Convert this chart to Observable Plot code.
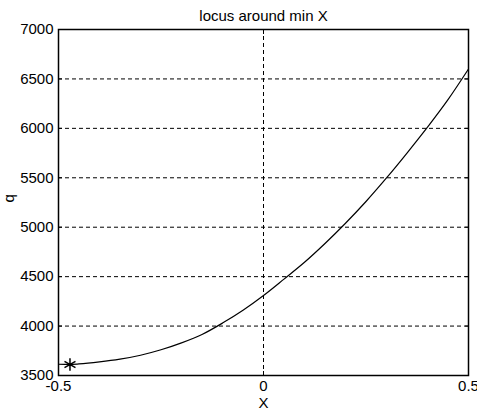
<!DOCTYPE html>
<html>
<head>
<meta charset="utf-8">
<script src="https://cdn.jsdelivr.net/npm/d3@7"></script>
<script src="https://cdn.jsdelivr.net/npm/@observablehq/plot@0.6"></script>
<style>
  html, body { margin: 0; padding: 0; background: white; }
</style>
</head>
<body>
<div id="chart"></div>
<script>
const titleText = "locus around min X";
const xLabel = "X";
const yLabel = "q";
const xs = [-0.5, -0.475, -0.45, -0.4, -0.35, -0.3, -0.25, -0.2, -0.15, -0.1, -0.05, 0, 0.05, 0.1, 0.15, 0.2, 0.25, 0.3, 0.35, 0.4, 0.45, 0.5];
const qs = [3614, 3612, 3617, 3637, 3665, 3705, 3760, 3830, 3915, 4030, 4160, 4309, 4475, 4645, 4835, 5040, 5260, 5498, 5750, 6012, 6290, 6600];
const minX = [-0.472];
const minQ = [3611];
const xTicks = [-0.5, 0, 0.5];
const yTicks = [3500, 4000, 4500, 5000, 5500, 6000, 6500, 7000];

const curve = xs.map((x, i) => ({x, q: qs[i]}));
const minPt = minX.map((x, i) => ({x, q: minQ[i]}));

const chart = Plot.plot({
  width: 477,
  height: 415,
  marginLeft: 58,
  marginRight: 9,
  marginTop: 29,
  marginBottom: 40,
  style: {fontFamily: "'Liberation Sans', Arial, sans-serif", fontSize: "15px", background: "white", color: "black"},
  x: {domain: [-0.5, 0.5]},
  y: {domain: [3500, 7000]},
  marks: [
    Plot.gridY(yTicks, {stroke: "black", strokeOpacity: 1, strokeDasharray: "4,3"}),
    Plot.gridX([0], {stroke: "black", strokeOpacity: 1, strokeDasharray: "4,3"}),
    Plot.axisY({ticks: yTicks, tickSize: 0, tickPadding: 5, tickFormat: d => String(d), label: null, fontSize: 15}),
    Plot.axisX({ticks: xTicks, tickSize: 0, tickPadding: 5, tickFormat: d => String(d), label: null, fontSize: 15}),
    Plot.axisY({ticks: yTicks, anchor: "left", tickSize: -4, tickFormat: () => "", label: null}),
    Plot.axisY({ticks: yTicks, anchor: "right", tickSize: -4, tickFormat: () => "", label: null}),
    Plot.axisX({ticks: xTicks, anchor: "bottom", tickSize: -4, tickFormat: () => "", label: null}),
    Plot.axisX({ticks: xTicks, anchor: "top", tickSize: -4, tickFormat: () => "", label: null}),
    Plot.frame({stroke: "black", strokeWidth: 1.5}),
    Plot.line(curve, {x: "x", y: "q", curve: "monotone-x", stroke: "black", strokeWidth: 1.2}),
    Plot.dot(minPt, {x: "x", y: "q", symbol: "asterisk", r: 6, stroke: "black", strokeWidth: 1.5}),
    Plot.text([titleText], {frameAnchor: "top", dy: -9, lineAnchor: "bottom", fontSize: 15}),
    Plot.text([xLabel], {frameAnchor: "bottom", dy: 28, lineAnchor: "middle", fontSize: 15}),
    Plot.text([yLabel], {frameAnchor: "left", dx: -49, rotate: -90, lineAnchor: "middle", fontSize: 15})
  ]
});
document.getElementById("chart").appendChild(chart);
</script>
</body>
</html>
